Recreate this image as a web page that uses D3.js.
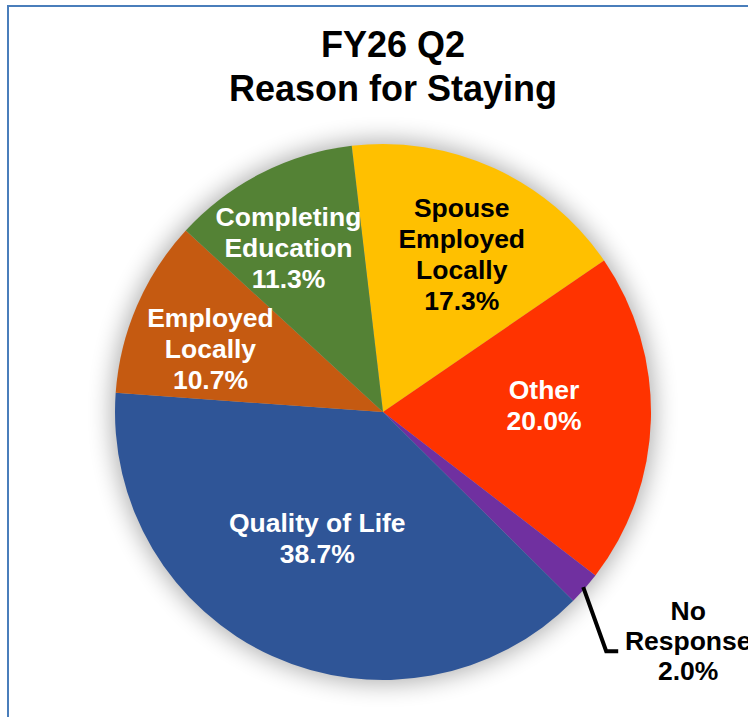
<!DOCTYPE html>
<html>
<head>
<meta charset="utf-8">
<script src="https://cdn.jsdelivr.net/npm/d3@7"></script>
<style>
  html, body { margin: 0; padding: 0; background: #fff; overflow: hidden; }
  svg { display: block; }
  text { font-family: Arial, "Liberation Sans", Helvetica, sans-serif; font-weight: bold; }
</style>
</head>
<body>
<script>
// ---- data ----
const categories = ["Spouse Employed Locally", "Other", "No Response", "Quality of Life", "Employed Locally", "Completing Education"];
const values = [17.3, 20.0, 2.0, 38.7, 10.7, 11.3];
const labelLines = [["Spouse", "Employed", "Locally"], ["Other"], ["No", "Response"], ["Quality of Life"], ["Employed", "Locally"], ["Completing", "Education"]];
const colors = ["#FFC000", "#FF3300", "#7030A0", "#2F5597", "#C55A11", "#548235"];
const labelColors = ["#000", "#fff", "#000", "#fff", "#fff", "#fff"];
const titleLines = ["FY26 Q2", "Reason for Staying"];

// ---- layout ----
const W = 748, H = 717;
const cx = 383, cy = 412, R = 268;
const startDeg = -6.7;
const labelK = 0.62;
const nudges = [[10, 3], [-5, -2], [0, 0], [3, -16], [-20, 12], [-19, -7]];
const lh = 31, fs = 26.5;

const svg = d3.select("body").append("svg").attr("width", W).attr("height", H);

// border
svg.append("rect").attr("x", 8).attr("y", 6).attr("width", W + 20).attr("height", H + 20)
  .attr("fill", "#fff").attr("stroke", "#4A7EBB").attr("stroke-width", 2);

// title
const title = svg.append("text").attr("text-anchor", "middle").attr("font-size", 36).attr("fill", "#000");
titleLines.forEach((t, i) => title.append("tspan").attr("x", 393).attr("y", 57 + i * 43.5).text(t));

// shadow filter
const defs = svg.append("defs");
const f = defs.append("filter").attr("id", "sh").attr("x", "-30%").attr("y", "-30%").attr("width", "160%").attr("height", "160%");
f.append("feGaussianBlur").attr("stdDeviation", 12);

const g = svg.append("g").attr("transform", `translate(${cx},${cy})`);
g.append("circle").attr("r", R + 3).attr("fill", "#000").attr("opacity", 0.32).attr("filter", "url(#sh)");

const pie = d3.pie().sort(null).value(d => d)
  .startAngle(startDeg * Math.PI / 180).endAngle(startDeg * Math.PI / 180 + 2 * Math.PI);
const arcs = pie(values);
const arc = d3.arc().innerRadius(0).outerRadius(R);
const labelArc = d3.arc().innerRadius(R * labelK).outerRadius(R * labelK);

g.selectAll("path.slice").data(arcs).enter().append("path")
  .attr("class", "slice").attr("d", arc).attr("fill", (d, i) => colors[i]);

function pct(v) { return v.toFixed(1) + "%"; }

arcs.forEach((d, i) => {
  if (categories[i] === "No Response") return;
  const c = labelArc.centroid(d);
  const x = c[0] + nudges[i][0], y = c[1] + nudges[i][1];
  const lines = labelLines[i].concat([pct(values[i])]);
  const t = g.append("text").attr("text-anchor", "middle").attr("font-size", fs).attr("fill", labelColors[i]);
  const y0 = y - (lines.length - 1) * lh / 2;
  lines.forEach((s, k) => t.append("tspan").attr("x", x).attr("y", y0 + k * lh).text(s));
});

// No Response leader + outside label
{
  const i = categories.indexOf("No Response");
  const d = arcs[i];
  const a = (d.startAngle + d.endAngle) / 2;
  const p0 = [Math.sin(a) * (R - 2), -Math.cos(a) * (R - 2)];
  const p1 = [p0[0] + 23, p0[1] + 64];
  const p2 = [p1[0] + 12, p1[1]];
  g.append("path").attr("d", d3.line()([p0, p1, p2])).attr("fill", "none")
    .attr("stroke", "#000").attr("stroke-width", 4).attr("stroke-linejoin", "miter");
  const lines = labelLines[i].concat([pct(values[i])]);
  const t = g.append("text").attr("text-anchor", "middle").attr("font-size", fs).attr("fill", labelColors[i]);
  const x = p2[0] + 70, y = p2[1] - 1;
  const y0 = y - (lines.length - 1) * 30 / 2;
  lines.forEach((s, k) => t.append("tspan").attr("x", x).attr("y", y0 + k * 30).text(s));
}
</script>
</body>
</html>
